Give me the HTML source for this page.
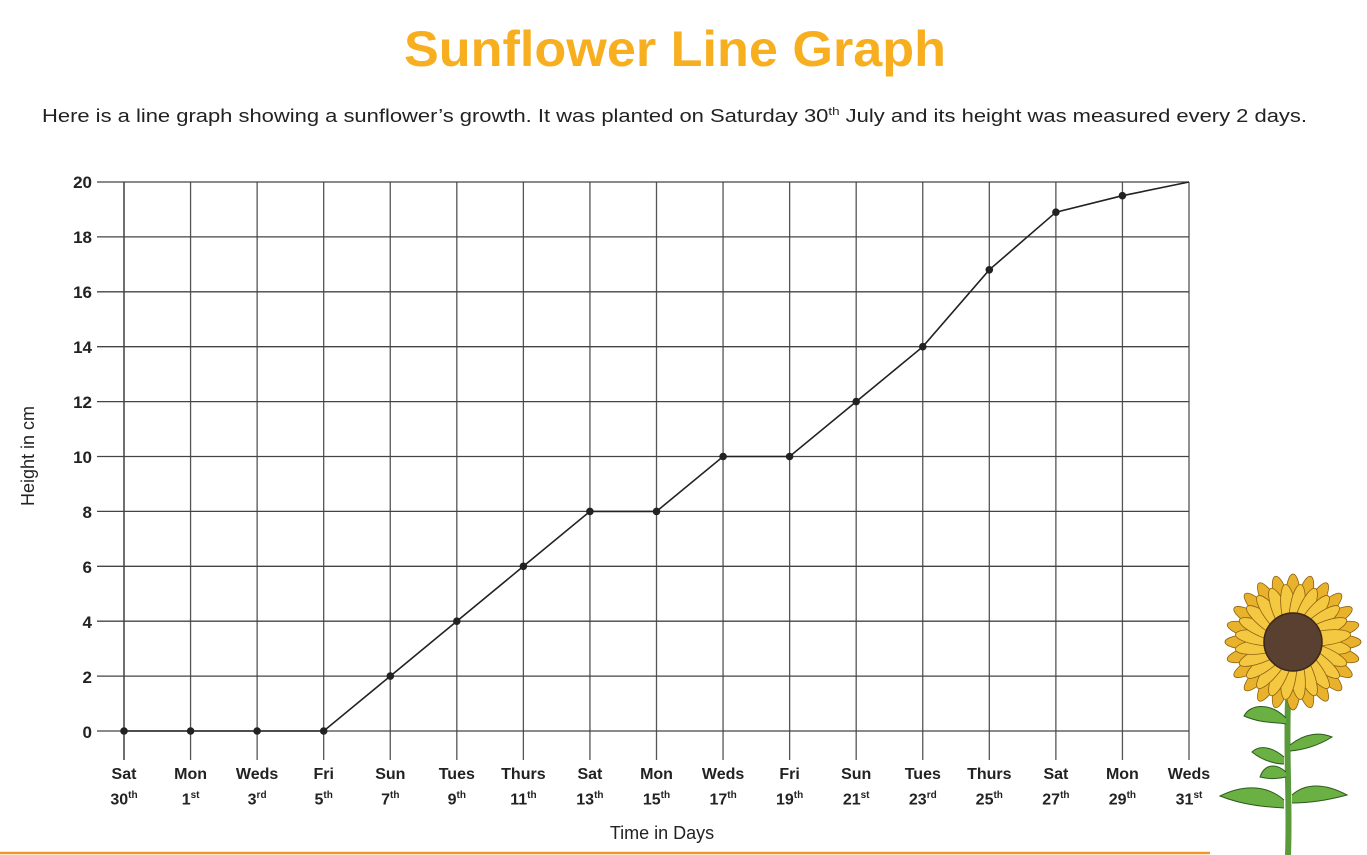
<!DOCTYPE html>
<html><head><meta charset="utf-8"><style>
html,body{margin:0;padding:0;background:#fff;width:1367px;height:855px;overflow:hidden}
svg{display:block;font-family:"Liberation Sans",sans-serif}
</style></head><body>
<svg id="s" width="1367" height="855" viewBox="0 0 1367 855" xmlns="http://www.w3.org/2000/svg">
<text x="675" y="66" text-anchor="middle" font-size="50" font-weight="bold" fill="#F7AE1F" textLength="542" lengthAdjust="spacingAndGlyphs">Sunflower Line Graph</text>
<text x="42" y="122" font-size="18" fill="#222" textLength="1265" lengthAdjust="spacingAndGlyphs">Here is a line graph showing a sunflower’s growth. It was planted on Saturday 30<tspan font-size="11" dy="-7">th</tspan><tspan dy="7"> July and its height was measured every 2 days.</tspan></text>
<g id="grid" stroke="#444" stroke-width="1.3"></g>
<g font-size="17" font-weight="bold" fill="#222" text-anchor="end">
<text x="92" y="188">20</text><text x="92" y="243">18</text><text x="92" y="298">16</text><text x="92" y="353">14</text><text x="92" y="408">12</text><text x="92" y="463">10</text><text x="92" y="518">8</text><text x="92" y="573">6</text><text x="92" y="628">4</text><text x="92" y="683">2</text><text x="92" y="738">0</text>
</g>
<text transform="translate(34,456) rotate(-90)" text-anchor="middle" font-size="18" fill="#222">Height in cm</text>
<text x="662" y="839" text-anchor="middle" font-size="18" fill="#222">Time in Days</text>
<polyline fill="none" stroke="#222" stroke-width="1.6" points="124,731 190.6,731 257.1,731 323.7,731 390.3,676.1 456.8,621.2 523.4,566.3 589.9,511.4 656.5,511.4 723.1,456.5 789.6,456.5 856.2,401.6 922.8,346.7 989.3,269.8 1055.9,212.2 1122.4,195.7 1189,182"/>
<g id="dots" fill="#222"></g>
<line x1="0" y1="853" x2="1210" y2="853" stroke="#F0962A" stroke-width="2.5"/>
<g id="flower"></g>
</svg>
<script>
var ns="http://www.w3.org/2000/svg";
function el(p,t,a){var e=document.createElementNS(ns,t);for(var k in a)e.setAttribute(k,a[k]);p.appendChild(e);return e;}
var g=document.getElementById('grid');
for(var i=0;i<17;i++){var x=124+i*66.5625;el(g,'line',{x1:x,y1:182,x2:x,y2:760,stroke:i==0?'#222':'#555'});}
for(var k=0;k<=10;k++){var y=731-k*54.9;el(g,'line',{x1:97,y1:y,x2:1189,y2:y});}
var pts=[[124,731],[190.6,731],[257.1,731],[323.7,731],[390.3,676.1],[456.8,621.2],[523.4,566.3],[589.9,511.4],[656.5,511.4],[723.1,456.5],[789.6,456.5],[856.2,401.6],[922.8,346.7],[989.3,269.8],[1055.9,212.2],[1122.4,195.7]];
var d=document.getElementById('dots');pts.forEach(function(p){el(d,'circle',{cx:p[0],cy:p[1],r:3.8});});
var f=document.getElementById('flower');
el(f,'path',{d:'M1288,700 C1286,760 1290,800 1288,855',stroke:'#5a9a3a','stroke-width':6,fill:'none'});
[['M1286,718 C1270,702 1250,704 1244,716 C1262,724 1278,722 1286,724'],['M1290,745 C1305,733 1320,732 1332,737 C1318,746 1302,750 1290,751'],['M1284,757 C1270,745 1258,746 1252,752 C1264,762 1278,764 1284,764'],['M1286,772 C1275,762 1264,765 1260,777 C1272,780 1282,778 1286,777'],['M1284,800 C1265,783 1240,786 1220,796 C1245,806 1270,807 1284,808'],['M1292,795 C1305,783 1325,783 1347,795 C1325,801 1305,803 1292,803']].forEach(function(a){el(f,'path',{d:a[0],fill:'#6bb043',stroke:'#2d5a1e','stroke-width':1});});
var cx=1293,cy=642;
for(var j=0;j<2;j++)for(var i=0;i<24;i++){var an=(i+j*0.5)/24*2*Math.PI,r=j?56:66,px=cx+Math.cos(an)*(r-24),py=cy+Math.sin(an)*(r-24);
el(f,'ellipse',{cx:px,cy:py,rx:26,ry:7.5,fill:j?'#f5c842':'#e9b22c',stroke:'#8a6010','stroke-width':0.8,transform:'rotate('+(an*180/Math.PI)+' '+px+' '+py+')'});}
el(f,'circle',{cx:cx,cy:cy,r:29,fill:'#5a4030',stroke:'#3a2818','stroke-width':1.5});
</script>
<div style="position:absolute;left:0;top:0;width:1367px;height:855px;pointer-events:none;font-family:'Liberation Sans',sans-serif;font-weight:bold;color:#222;font-size:16px">
<div style="position:absolute;top:764px;left:94px;width:60px;text-align:center;line-height:21px">Sat<br>30<sup style="font-size:10px">th</sup></div>
<div style="position:absolute;top:764px;left:160.6px;width:60px;text-align:center;line-height:21px">Mon<br>1<sup style="font-size:10px">st</sup></div>
<div style="position:absolute;top:764px;left:227.1px;width:60px;text-align:center;line-height:21px">Weds<br>3<sup style="font-size:10px">rd</sup></div>
<div style="position:absolute;top:764px;left:293.7px;width:60px;text-align:center;line-height:21px">Fri<br>5<sup style="font-size:10px">th</sup></div>
<div style="position:absolute;top:764px;left:360.3px;width:60px;text-align:center;line-height:21px">Sun<br>7<sup style="font-size:10px">th</sup></div>
<div style="position:absolute;top:764px;left:426.8px;width:60px;text-align:center;line-height:21px">Tues<br>9<sup style="font-size:10px">th</sup></div>
<div style="position:absolute;top:764px;left:493.4px;width:60px;text-align:center;line-height:21px">Thurs<br>11<sup style="font-size:10px">th</sup></div>
<div style="position:absolute;top:764px;left:559.9px;width:60px;text-align:center;line-height:21px">Sat<br>13<sup style="font-size:10px">th</sup></div>
<div style="position:absolute;top:764px;left:626.5px;width:60px;text-align:center;line-height:21px">Mon<br>15<sup style="font-size:10px">th</sup></div>
<div style="position:absolute;top:764px;left:693.1px;width:60px;text-align:center;line-height:21px">Weds<br>17<sup style="font-size:10px">th</sup></div>
<div style="position:absolute;top:764px;left:759.6px;width:60px;text-align:center;line-height:21px">Fri<br>19<sup style="font-size:10px">th</sup></div>
<div style="position:absolute;top:764px;left:826.2px;width:60px;text-align:center;line-height:21px">Sun<br>21<sup style="font-size:10px">st</sup></div>
<div style="position:absolute;top:764px;left:892.8px;width:60px;text-align:center;line-height:21px">Tues<br>23<sup style="font-size:10px">rd</sup></div>
<div style="position:absolute;top:764px;left:959.3px;width:60px;text-align:center;line-height:21px">Thurs<br>25<sup style="font-size:10px">th</sup></div>
<div style="position:absolute;top:764px;left:1025.9px;width:60px;text-align:center;line-height:21px">Sat<br>27<sup style="font-size:10px">th</sup></div>
<div style="position:absolute;top:764px;left:1092.4px;width:60px;text-align:center;line-height:21px">Mon<br>29<sup style="font-size:10px">th</sup></div>
<div style="position:absolute;top:764px;left:1159px;width:60px;text-align:center;line-height:21px">Weds<br>31<sup style="font-size:10px">st</sup></div>
</div>
</body></html>
